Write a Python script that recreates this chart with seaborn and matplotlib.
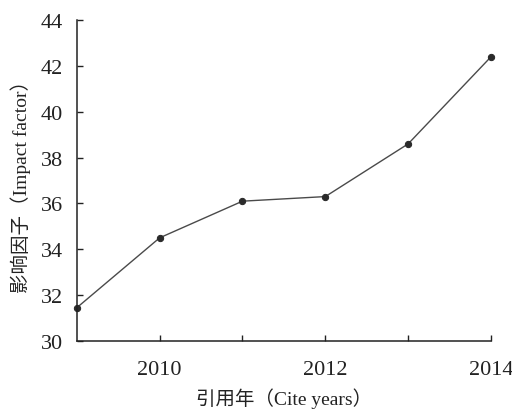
import numpy as np
import pandas as pd
import matplotlib
matplotlib.use('Agg')
import matplotlib.pyplot as plt
import seaborn as sns

years = [2009, 2010, 2011, 2012, 2013, 2014]
impact = [31.45, 34.5, 36.1, 36.3, 38.6, 42.4]

df = pd.DataFrame({'year': years, 'impact': impact})

sns.set_theme(style='ticks')
plt.rcParams['font.family'] = ['Liberation Serif', 'Noto Sans CJK SC']
plt.rcParams['xtick.direction'] = 'in'
plt.rcParams['ytick.direction'] = 'in'

fig = plt.figure(figsize=(5.12, 4.14), dpi=100)
ax = fig.add_axes([0.150, 0.174, 0.809, 0.775])

sns.lineplot(data=df, x='year', y='impact', ax=ax, color='#4a4a4a', linewidth=1.0,
             marker='o', markersize=4.5, markeredgecolor='#2a2a2a', markerfacecolor='#2a2a2a',
             clip_on=False)

ax.set_xlim(2009, 2014)
ax.set_ylim(30, 44)
ax.set_xticks([2010, 2012, 2014])
ax.set_xticks([2011, 2013], minor=True)
ax.set_yticks(np.arange(30, 45, 2))
ax.tick_params(axis='both', which='both', direction='in', labelsize=16, colors='#222222', length=4, width=1)
ax.tick_params(axis='y', pad=10)
ax.tick_params(axis='x', pad=14)
sns.despine(ax=ax)
for s in ['left', 'bottom']:
    ax.spines[s].set_linewidth(1.1)
    ax.spines[s].set_color('#222222')

ax.set_xlabel('引用年（Cite years）', fontsize=14, color='#222222', labelpad=6)
ax.set_ylabel('影响因子（Impact factor）', fontsize=14, color='#222222', labelpad=7)

fig.savefig('out.png', dpi=100)
